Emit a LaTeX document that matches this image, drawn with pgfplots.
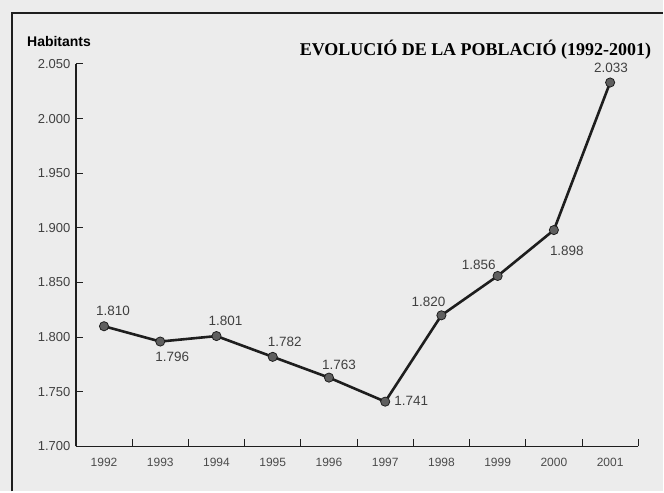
\documentclass[border=0pt]{standalone}
\usepackage{pgfplots}
\pgfplotsset{compat=1.18}
\usepackage{fontspec}
\setmainfont{Liberation Serif}
\newfontfamily\sansf{Liberation Sans}
\definecolor{paper}{RGB}{236,236,236}
\definecolor{ink}{RGB}{30,30,30}
\definecolor{dot}{RGB}{95,95,95}
\begin{document}
\begin{tikzpicture}[x=1pt,y=1pt]
\fill[paper] (0,0) rectangle (664,492);
\draw[ink,line width=1.6pt] (12,0) -- (12,479) -- (664,479);
\node[anchor=base east,inner sep=0pt] at (652,436) {\fontsize{18}{18}\selectfont\bfseries EVOLUCIÓ DE LA POBLACIÓ (1992-2001)};
\node[anchor=base west,inner sep=0pt] at (27,445) {\sansf\fontsize{14}{14}\selectfont\bfseries Habitants};
\begin{axis}[
  at={(76pt,45pt)}, anchor=south west,
  scale only axis, width=563pt, height=383pt,
  xmin=-0.5, xmax=9.5, ymin=1700, ymax=2050,
  axis lines*=left,
  axis line style={ink, line width=1.2pt, -},
  tick align=inside,
  major tick length=7pt,
  tick style={ink, line width=1pt},
  xtick={0.5,1.5,2.5,3.5,4.5,5.5,6.5,7.5,8.5,9.5},
  xticklabels={},
  extra x ticks={0,1,2,3,4,5,6,7,8,9},
  extra x tick labels={1992,1993,1994,1995,1996,1997,1998,1999,2000,2001},
  extra x tick style={major tick length=0pt, tick style={draw=none}},
  ytick={1700,1750,1800,1850,1900,1950,2000,2050},
  /pgf/number format/assume math mode=true,
  /pgf/number format/1000 sep={.},
  yticklabel style={font=\sansf\fontsize{13}{13}\selectfont, text=ink!85, xshift=-2pt},
  xticklabel style={font=\sansf\fontsize{12}{12}\selectfont, text=ink!80, yshift=-8pt},
  clip=false,
]
\addplot[ink, line width=2.6pt, mark=*, mark size=4.6pt, mark options={fill=dot, draw=ink, line width=0.8pt}]
coordinates {(0,1810) (1,1796) (2,1801) (3,1782) (4,1763) (5,1741) (6,1820) (7,1856) (8,1898) (9,2033)};
\begin{scope}[every node/.style={font=\sansf\fontsize{13.5}{13.5}\selectfont, text=ink!85, inner sep=0pt}]
\node[xshift=9pt, yshift=15pt] at (axis cs:0,1810) {1.810};
\node[xshift=12pt, yshift=-15pt] at (axis cs:1,1796) {1.796};
\node[xshift=9pt, yshift=15pt] at (axis cs:2,1801) {1.801};
\node[xshift=12pt, yshift=15pt] at (axis cs:3,1782) {1.782};
\node[xshift=10pt, yshift=13pt] at (axis cs:4,1763) {1.763};
\node[anchor=west, xshift=9pt, yshift=1pt] at (axis cs:5,1741) {1.741};
\node[xshift=-13pt, yshift=13pt] at (axis cs:6,1820) {1.820};
\node[xshift=-19pt, yshift=11pt] at (axis cs:7,1856) {1.856};
\node[xshift=13pt, yshift=-21pt] at (axis cs:8,1898) {1.898};
\node[xshift=1pt, yshift=15pt] at (axis cs:9,2033) {2.033};
\end{scope}
\end{axis}
\end{tikzpicture}
\end{document}
